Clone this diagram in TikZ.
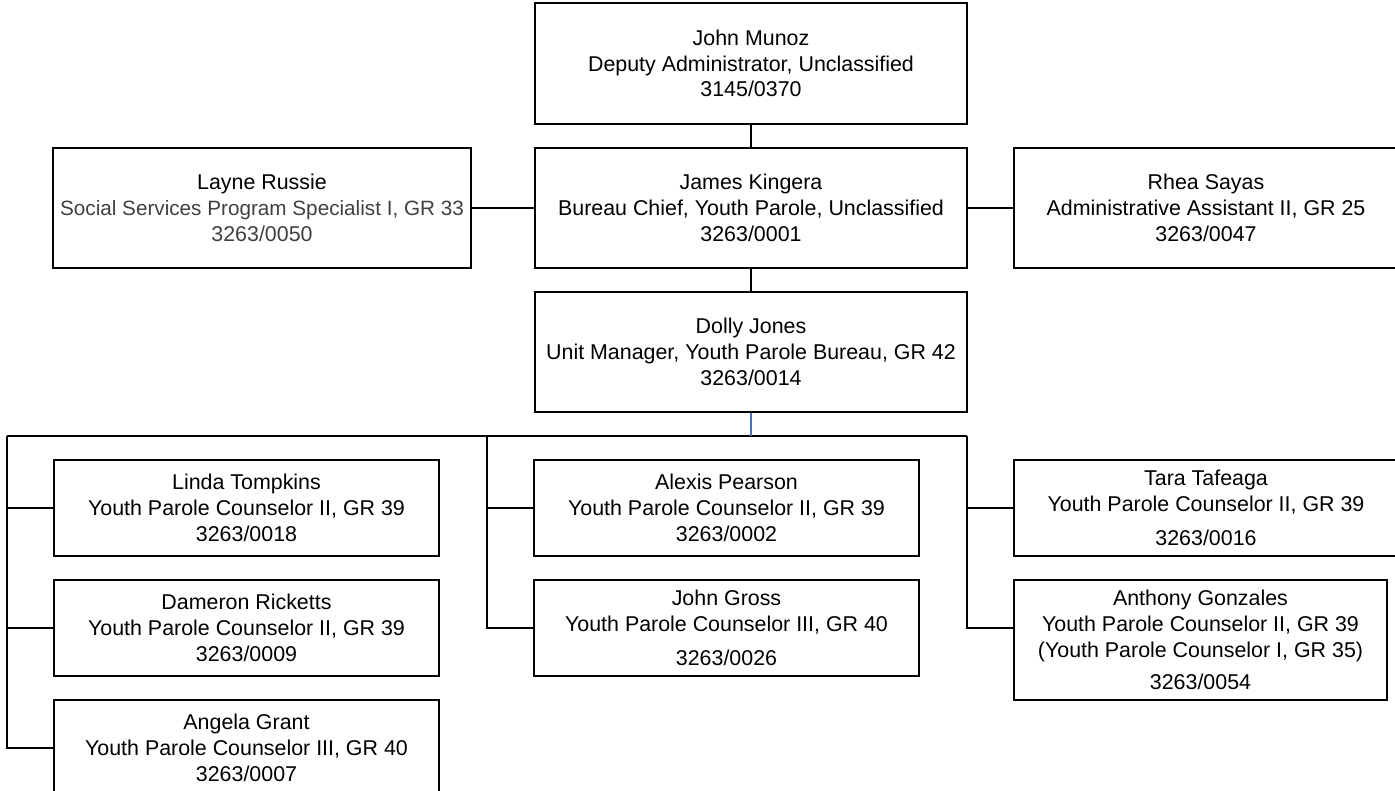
\documentclass[tikz,border=0pt]{standalone}
\usepackage{fontspec}
\setmainfont{Liberation Sans}
\usetikzlibrary{calc}
\definecolor{linkblue}{RGB}{68,114,196}
\definecolor{subgray}{RGB}{64,64,64}
\tikzset{
  pbox/.style={draw=black, line width=2pt, rectangle, inner sep=0pt, align=center,
    font=\fontsize{21.4}{25.8}\selectfont, text=black},
  wire/.style={draw=black, line width=2pt},
}
\begin{document}
\begin{tikzpicture}[x=1pt, y=-1pt]
\useasboundingbox (0,0) rectangle (1395,791);
% top chain
\node[pbox, minimum width=432pt, minimum height=121pt] (munoz) at (751,63.5)
  {John Munoz\\Deputy Administrator, Unclassified\\3145/0370};
\node[pbox, minimum width=432pt, minimum height=120pt] (kingera) at (751,208)
  {James Kingera\\Bureau Chief, Youth Parole, Unclassified\\3263/0001};
\node[pbox, minimum width=432pt, minimum height=120pt] (dolly) at (751,352)
  {Dolly Jones\\Unit Manager, Youth Parole Bureau, GR 42\\3263/0014};
\node[pbox, minimum width=418pt, minimum height=120pt] (layne) at (262,208)
  {Layne Russie\\\textcolor{subgray}{\fontsize{20.7}{25.8}\selectfont Social Services Program Specialist I, GR 33}\\\textcolor{subgray}{3263/0050}};
\node[pbox, minimum width=384pt, minimum height=120pt] (rhea) at (1206,208)
  {Rhea Sayas\\Administrative Assistant II, GR 25\\3263/0047};
% left column
\node[pbox, minimum width=385pt, minimum height=96pt] (linda) at (246.5,508)
  {Linda Tompkins\\Youth Parole Counselor II, GR 39\\3263/0018};
\node[pbox, minimum width=385pt, minimum height=96pt] (dameron) at (246.5,628)
  {Dameron Ricketts\\Youth Parole Counselor II, GR 39\\3263/0009};
\node[pbox, minimum width=385pt, minimum height=96pt] (angela) at (246.5,748)
  {Angela Grant\\Youth Parole Counselor III, GR 40\\3263/0007};
% middle column
\node[pbox, minimum width=385pt, minimum height=96pt] (alexis) at (726.5,508)
  {Alexis Pearson\\Youth Parole Counselor II, GR 39\\3263/0002};
\node[pbox, minimum width=385pt, minimum height=96pt] (gross) at (726.5,628)
  {John Gross\\Youth Parole Counselor III, GR 40\\[9pt]3263/0026};
% right column
\node[pbox, minimum width=384pt, minimum height=96pt] (tara) at (1206,508)
  {Tara Tafeaga\\Youth Parole Counselor II, GR 39\\[9pt]3263/0016};
\node[pbox, minimum width=373pt, minimum height=120pt] (anthony) at (1200.5,640)
  {Anthony Gonzales\\Youth Parole Counselor II, GR 39\\(Youth Parole Counselor I, GR 35)\\[7pt]3263/0054};
% bus coordinates
\coordinate (busL) at (7,436);
\coordinate (busM) at (487,436);
\coordinate (busC) at (751,436);
\coordinate (busR) at (967,436);
\coordinate (anthonyIn) at ($(anthony.north west)!0.4!(anthony.south west)$);
% connectors
\draw[wire] (munoz.south) -- (kingera.north);
\draw[wire] (kingera.south) -- (dolly.north);
\draw[wire] (layne.east) -- (kingera.west);
\draw[wire] (kingera.east) -- (rhea.west);
\draw[wire] (busL) -- (busR);
\draw[wire] (busL) |- (linda.west);
\draw[wire] (busL) |- (dameron.west);
\draw[wire] (busL) |- (angela.west);
\draw[wire] (busM) |- (alexis.west);
\draw[wire] (busM) |- (gross.west);
\draw[wire] (busR) |- (tara.west);
\draw[wire] (busR) |- (anthonyIn);
\draw[draw=linkblue, line width=2pt] (dolly.south) -- (busC);
\end{tikzpicture}
\end{document}
